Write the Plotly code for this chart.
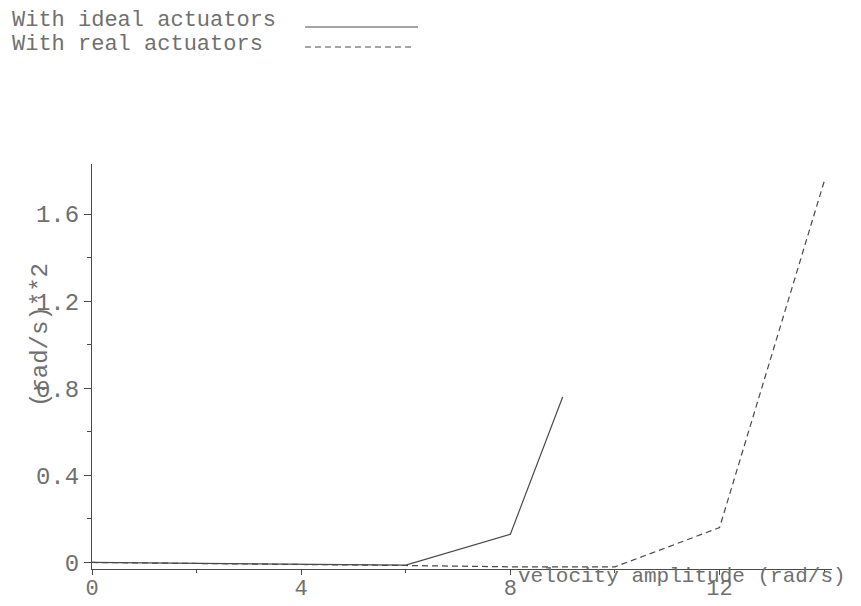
import plotly.graph_objects as go

# Data: squared velocity response vs. velocity amplitude
ideal_x = [0, 2, 4, 6, 8, 9]
ideal_y = [0.0, -0.004, -0.008, -0.012, 0.13, 0.76]

real_x = [0, 2, 4, 6, 8, 10, 12, 14]
real_y = [0.0, -0.004, -0.008, -0.014, -0.02, -0.02, 0.16, 1.75]

x_tick_vals = [0, 4, 8, 12]
x_tick_text = ["0", "4", "8", "12"]
y_tick_vals = [0, 0.4, 0.8, 1.2, 1.6]
y_tick_text = ["0", "0.4", "0.8", "1.2", "1.6"]

legend_labels = ["With ideal actuators", "With real actuators"]
x_title = "velocity amplitude (rad/s)"
y_title = "(rad/s)**2"

W, H = 861, 606
ML, MR, MT, MB = 92, 29, 164, 37
PW, PH = W - ML - MR, H - MT - MB

FONT = "Liberation Mono, Courier New, monospace"
TXT = "#707070"
INK = "#4a4a4a"


def px(xp):
    return (xp - ML) / PW


def py(yp):
    return (H - MB - yp) / PH


fig = go.Figure()
fig.add_trace(go.Scatter(x=ideal_x, y=ideal_y, mode="lines",
                         line=dict(color=INK, width=1.2), name=legend_labels[0]))
fig.add_trace(go.Scatter(x=real_x, y=real_y, mode="lines",
                         line=dict(color=INK, width=1.2, dash="6px,4px"),
                         name=legend_labels[1]))

fig.update_xaxes(range=[0, 14.15], tickvals=x_tick_vals, ticktext=x_tick_text,
                 automargin=False, ticklabelstandoff=-6,
                 showgrid=False, zeroline=False, showline=True, linecolor=INK,
                 linewidth=1, ticks="outside", ticklen=5, tickcolor=INK,
                 minor=dict(dtick=2, ticks="outside", ticklen=3, tickcolor=INK),
                 tickfont=dict(family=FONT, size=22, color=TXT))
fig.update_yaxes(range=[-0.03, 1.83], tickvals=y_tick_vals, ticktext=y_tick_text,
                 automargin=False,
                 showgrid=False, zeroline=False, showline=True, linecolor=INK,
                 linewidth=1, ticks="outside", ticklen=7, tickcolor=INK,
                 minor=dict(tickvals=[0.2, 0.6, 1.0, 1.4], ticks="outside",
                            ticklen=4, tickcolor=INK),
                 tickfont=dict(family=FONT, size=24, color=TXT))

annotations = [
    dict(text=y_title, xref="paper", yref="paper", x=px(40), y=py(335),
         textangle=-90, showarrow=False, xanchor="center", yanchor="middle",
         font=dict(family=FONT, size=24, color=TXT)),
    dict(text=x_title, xref="paper", yref="paper", x=px(516), y=py(576),
         showarrow=False, xanchor="left", yanchor="middle",
         font=dict(family=FONT, size=21, color=TXT)),
    dict(text=legend_labels[0], xref="paper", yref="paper", x=px(10), y=py(21),
         showarrow=False, xanchor="left", yanchor="middle",
         font=dict(family=FONT, size=22, color=TXT)),
    dict(text=legend_labels[1], xref="paper", yref="paper", x=px(10), y=py(44),
         showarrow=False, xanchor="left", yanchor="middle",
         font=dict(family=FONT, size=22, color=TXT)),
]

shapes = [
    dict(type="line", xref="paper", yref="paper", x0=px(305), x1=px(418),
         y0=py(27), y1=py(27), line=dict(color=INK, width=1.2)),
    dict(type="line", xref="paper", yref="paper", x0=px(305), x1=px(415),
         y0=py(47), y1=py(47), line=dict(color=INK, width=1.2, dash="6px,4px")),
]

fig.update_layout(width=W, height=H, margin=dict(l=ML, r=MR, t=MT, b=MB),
                  paper_bgcolor="white", plot_bgcolor="white", showlegend=False,
                  annotations=annotations, shapes=shapes)

fig.write_html("out.html")
